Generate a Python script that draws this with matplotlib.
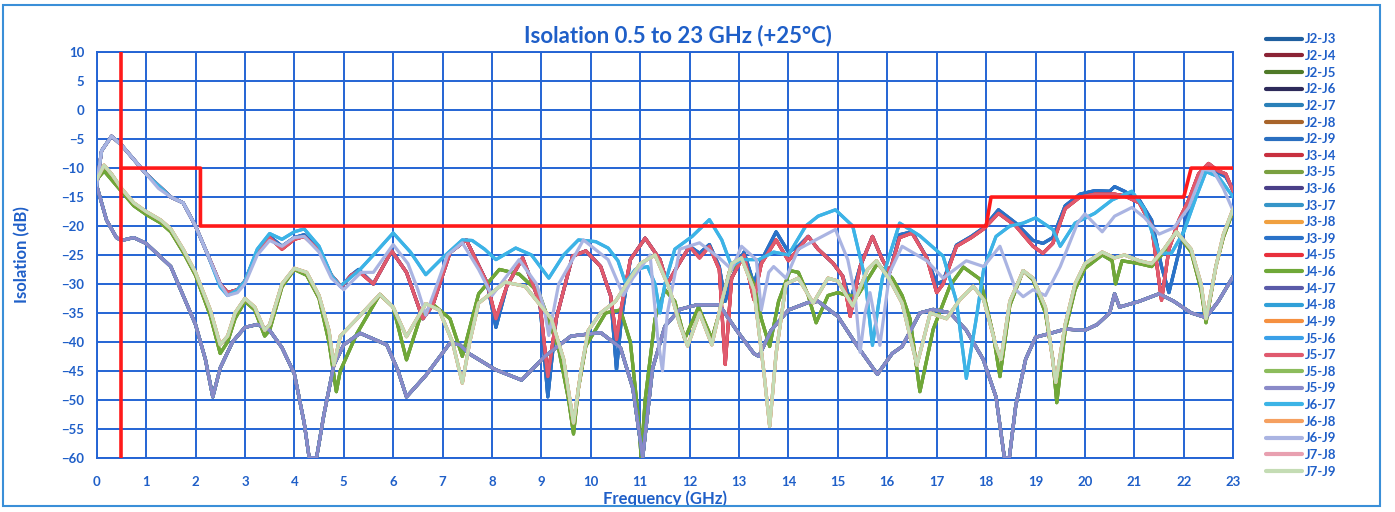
import matplotlib
matplotlib.use('Agg')
from matplotlib import pyplot as plt
from matplotlib.patches import Rectangle

plt.rcParams['font.family'] = ['Lato', 'DejaVu Sans']

BLUE_TXT = '#1f5fc8'
GRID = '#2464d4'

# ---- data (GHz, dB) ----
freq_main = [0.0, 0.1, 0.3, 0.5, 0.75, 1.0, 1.25, 1.5, 1.75, 2.0, 2.25, 2.5, 2.65, 2.85, 3.0, 3.25,
             3.5, 3.75, 4.0, 4.2, 4.5, 4.75, 4.95, 5.15, 5.3, 5.6, 5.97, 6.27, 6.6, 6.8, 7.15, 7.48,
             7.9, 8.08, 8.3, 8.62, 8.97, 9.13, 9.3, 9.63, 9.9, 10.2, 10.4, 10.52, 10.62, 10.8, 11.1,
             11.4, 11.55, 11.75, 12.0, 12.2, 12.4, 12.6, 12.72, 12.85, 13.1, 13.3, 13.45, 13.75, 14.0,
             14.2, 14.4, 14.6, 14.9, 15.1, 15.25, 15.45, 15.7, 15.9, 16.05, 16.25, 16.5, 16.8, 17.0,
             17.13, 17.4, 17.7, 17.95, 18.25, 18.6, 18.95, 19.15, 19.35, 19.6, 19.9, 20.2, 20.5, 20.6,
             20.8, 21.1, 21.35, 21.55, 21.7, 21.9, 22.1, 22.3, 22.5, 22.7, 22.85, 23.0]
iso_blue = [-13, -7, -4.5, -6, -8.5, -11, -13, -15, -16, -20, -25, -30, -31.5, -31, -29.5, -24.5,
            -21.8, -23.5, -22, -21.5, -24, -28.5, -30.5, -28.5, -27.5, -30, -24.3, -28, -36, -33.7, -24.6, -22.4,
            -29.8, -37.5, -30.4, -25.5, -33.3, -49.5, -36, -25.2, -24.3, -27, -32, -44.8, -36, -25.8, -22.1,
            -25.8, -30, -27, -23.5, -24.7, -23.2, -27, -33, -29, -24.5, -30, -26, -21, -24.5,
            -23.5, -21.8, -24, -26.4, -28.7, -33, -27, -21.8, -25.8, -28, -21.5, -21, -25.5, -30,
            -29.5, -23.3, -21.8, -20.3, -17.2, -19.5, -22.5, -23, -22, -16.5, -14.5, -13.9, -14, -13.2,
            -14, -15.5, -19, -27, -31.5, -24.5, -17, -11.4, -9.4, -10.8, -11.5, -13.8]
iso_red = [-13, -7, -4.5, -6, -8.5, -11, -13, -15, -16, -20, -25, -30, -31.5, -31, -29.5, -24.5,
           -22, -24, -22.3, -21.8, -24.2, -28.5, -30.5, -28.5, -27.8, -30, -24.3, -28, -36, -33.7, -24.6, -22.4,
           -29.8, -36, -30.4, -25.5, -33.3, -46, -36, -25.2, -24.3, -27, -32, -39.6, -34, -25.8, -22.1,
           -25.8, -30, -27, -23.5, -25.5, -23.5, -27.5, -43.9, -29, -25, -32.7, -26.5, -22.4, -26,
           -24, -21.8, -24, -26.4, -28.7, -35.6, -27, -21.8, -25.8, -28, -22, -21.2, -25.5, -31.5,
           -30, -23.5, -22, -20.5, -17.8, -20, -23.5, -24.7, -23, -17, -15, -14.5, -14.5, -14.5,
           -14.8, -16, -20, -32.8, -24, -19, -15.5, -11, -9.2, -10.5, -11, -14]

freq_cyan = [0.0, 0.1, 0.3, 0.5, 0.75, 1.0, 1.25, 1.5, 1.75, 2.0, 2.25, 2.5, 2.65, 2.85, 3.0, 3.25,
             3.5, 3.75, 4.0, 4.2, 4.5, 4.75, 4.93, 5.33, 5.6, 6.0, 6.35, 6.66, 7.0, 7.4, 7.6, 7.85,
             8.08, 8.48, 8.8, 9.15, 9.45, 9.75, 10.1, 10.35, 10.55, 10.7, 10.9, 11.15, 11.3, 11.4,
             11.5, 11.7, 12.05, 12.4, 12.65, 12.85, 13.05, 13.4, 13.7, 14.0, 14.35, 14.6, 14.95, 15.3,
             15.55, 15.7, 15.9, 16.25, 16.66, 17.13, 17.4, 17.6, 17.8, 17.95, 18.2, 18.48, 18.75, 19.0,
             19.35, 19.5, 19.8, 20.2, 20.55, 20.95, 21.2, 21.5, 21.75, 22.0, 22.25, 22.45, 22.7, 23.0]
iso_cyan = [-13, -7, -4.5, -6, -8.5, -11, -13, -15, -16, -20, -25, -30.5, -32, -31, -29.5, -24,
            -21.3, -22.3, -21, -20.5, -23.5, -28.5, -30.4, -27.5, -25, -21.2, -24.5, -28.4, -25.5, -22.4, -22.5, -24,
            -25.8, -23.8, -25, -29, -25, -22.4, -22.7, -23.8, -26, -29.8, -27.5, -27, -30, -35,
            -30, -24, -21.8, -18.9, -22.4, -27, -25.8, -25.8, -24.5, -25, -20, -18.3, -17.2, -20,
            -29, -40.6, -29, -19.5, -21.7, -25.2, -33, -46.3, -36, -27.5, -21.8, -20, -19.5, -18.6,
            -20.6, -23.5, -19.5, -17.8, -15.5, -14, -17, -24.7, -24.7, -21, -15, -10.6, -11.5, -15]

freq_lav = [0.0, 0.1, 0.3, 0.5, 0.75, 1.0, 1.25, 1.5, 1.75, 2.0, 2.25, 2.5, 2.65, 2.85, 3.0, 3.25,
            3.5, 3.75, 4.0, 4.2, 4.5, 4.75, 5.0, 5.35, 5.6, 6.0, 6.3, 6.5, 6.66, 6.85, 7.1, 7.4,
            7.73, 8.0, 8.55, 8.9, 9.05, 9.15, 9.35, 9.63, 9.85, 10.35, 10.66, 10.85, 11.2, 11.35,
            11.45, 11.55, 11.8, 12.2, 12.6, 12.85, 13.05, 13.35, 13.45, 13.6, 13.7, 13.95, 14.2, 14.55,
            14.95, 15.2, 15.35, 15.45, 15.55, 15.65, 15.85, 16.05, 16.3, 16.8, 17.13, 17.6, 17.95, 18.28,
            18.6, 18.75, 18.95, 19.2, 19.5, 19.85, 20.0, 20.35, 20.6, 20.95, 21.2, 21.5, 21.8, 22.1,
            22.4, 22.6, 22.8, 23.0]
iso_lav = [-13, -7, -4.5, -6, -8.5, -11, -13.5, -15, -16, -20, -25, -30, -32, -31.5, -30, -25,
           -22.5, -23.5, -22, -21.8, -24.5, -29, -31, -28, -28, -23.2, -26.5, -31, -35.4, -31, -25, -22.9,
           -27.5, -32, -25.8, -30, -34, -38.9, -30, -25.8, -22.4, -25.8, -32, -29, -25, -39,
           -45, -35, -24, -22.9, -25.5, -27.5, -23.5, -25.8, -34.5, -28, -27, -29, -24, -22.4,
           -20.6, -25.8, -32, -41.8, -35, -31.5, -40.6, -28, -23.5, -26, -29, -26, -27, -23.5,
           -31, -32.2, -31, -32, -27, -19.5, -17.9, -21, -18.3, -16.8, -18.5, -21.4, -20.3, -16.8,
           -10.2, -10.5, -13.5, -17.4]

freq_green = [0.0, 0.15, 0.3, 0.5, 0.75, 1.0, 1.3, 1.5, 1.75, 2.0, 2.3, 2.5, 2.65, 2.8, 3.0, 3.2,
              3.4, 3.5, 3.75, 4.0, 4.25, 4.5, 4.7, 4.85, 4.93, 5.27, 5.73, 6.0, 6.27, 6.53, 6.8, 7.15,
              7.4, 7.73, 8.15, 8.55, 8.95, 9.35, 9.55, 9.65, 9.75, 9.9, 10.3, 10.6, 10.8, 10.95,
              11.02, 11.1, 11.3, 11.5, 11.7, 11.9, 12.18, 12.45, 12.6, 12.8, 13.05, 13.3, 13.45, 13.62,
              13.8, 14.03, 14.2, 14.4, 14.56, 14.8, 15.0, 15.2, 15.4, 15.8, 16.1, 16.3, 16.46, 16.66,
              16.93, 17.27, 17.54, 17.88, 18.15, 18.28, 18.48, 18.75, 18.95, 19.2, 19.35, 19.43, 19.6, 19.8,
              20.0, 20.35, 20.55, 20.62, 20.75, 21.1, 21.35, 21.6, 21.85, 22.15, 22.35, 22.45, 22.65, 22.8,
              23.0]
iso_green = [-12, -10.5, -12, -14, -16.5, -18, -19.5, -21, -24.5, -28.5, -35.5, -42, -40, -36, -33, -34.5,
             -39, -38, -30.5, -27.5, -28.5, -32.5, -40, -48.6, -45, -38.5, -31.8, -34, -43.1, -36.2, -33.5, -36,
             -42.5, -31.7, -27.5, -28.3, -31.5, -41.2, -50, -55.9, -48, -40.7, -35, -34.5, -40, -52,
             -60, -50, -36, -31, -33, -39.5, -34, -39.5, -35, -28, -25.5, -30, -36, -40.8,
             -33, -27.7, -28, -32, -36.7, -32, -31.5, -32, -32, -26.5, -29, -32, -36, -48.6,
             -37.8, -30.3, -27.1, -29.2, -39, -46, -33.7, -27.7, -29.3, -35, -43, -50.5, -38, -31,
             -27.3, -25, -26, -30, -26, -26.5, -27, -24.5, -21, -24.5, -31, -36.7, -27, -22,
             -17.4]

freq_pale = [0.0, 0.15, 0.3, 0.5, 0.75, 1.0, 1.3, 1.5, 1.75, 2.0, 2.3, 2.5, 2.65, 2.8, 3.0, 3.2,
             3.4, 3.5, 3.75, 4.0, 4.25, 4.5, 4.7, 4.8, 4.93, 5.27, 5.73, 6.0, 6.27, 6.66, 6.93, 7.2,
             7.4, 7.55, 7.73, 8.27, 8.67, 9.2, 9.45, 9.65, 9.8, 9.95, 10.2, 10.5, 10.8, 11.0,
             11.3, 11.6, 11.8, 11.96, 12.2, 12.45, 12.65, 12.85, 13.05, 13.3, 13.5, 13.62, 13.75, 13.95,
             14.2, 14.5, 14.8, 15.0, 15.3, 15.6, 15.78, 16.05, 16.3, 16.6, 16.87, 17.2, 17.47, 17.74,
             17.95, 18.2, 18.3, 18.48, 18.75, 18.95, 19.2, 19.41, 19.6, 19.8, 20.0, 20.35, 20.6, 20.8,
             21.1, 21.35, 21.6, 21.85, 22.15, 22.35, 22.45, 22.65, 22.8, 23.0]
iso_pale = [-12, -9.5, -11, -13.5, -16, -17.5, -19, -20.5, -24, -28, -34.5, -40.5, -39, -35, -32.5, -34,
            -38, -37, -30, -27.3, -28, -32, -38, -44, -39, -36, -31.8, -34, -39.1, -33.4, -34.5, -40,
            -47.1, -40, -33.3, -29.7, -30.4, -36, -43, -54, -45, -38, -35, -33, -29, -26.5,
            -25, -31, -37, -40.7, -35, -40.5, -33, -26.5, -25.5, -31, -45, -54.6, -42, -30,
            -29, -33.3, -29, -29.5, -33.8, -27.5, -26, -29.3, -33.3, -44, -35, -36, -32.7, -30.4,
            -32.7, -40.7, -43, -33, -27.7, -29, -34, -47, -37, -30, -26.5, -24.5, -25.5, -25,
            -26, -26.5, -24, -21, -24, -30, -36, -27, -21.5, -17]

freq_low = [0.0, 0.2, 0.4, 0.5, 0.75, 1.0, 1.5, 2.0, 2.2, 2.35, 2.5, 2.75, 3.0, 3.25, 3.5, 3.75,
            4.0, 4.2, 4.3, 4.45, 4.6, 4.8, 5.0, 5.33, 5.87, 6.1, 6.27, 6.66, 7.15, 7.35, 7.53, 8.07,
            8.6, 9.07, 9.6, 10.2, 10.6, 10.85, 11.05, 11.25, 11.5, 11.8, 12.15, 12.6, 12.95, 13.3,
            13.4, 13.65, 14.0, 14.4, 14.6, 15.0, 15.4, 15.8, 16.1, 16.3, 16.66, 16.93, 17.27, 17.6,
            17.94, 18.2, 18.37, 18.47, 18.6, 18.8, 19.0, 19.27, 19.6, 20.0, 20.25, 20.5, 20.6, 20.7,
            21.1, 21.5, 21.8, 22.15, 22.45, 22.7, 23.0]
iso_low = [-13, -19, -22, -22.5, -22, -23, -27, -37, -43, -49.5, -44.5, -40, -37.5, -37, -38, -41,
           -45.5, -54, -60, -60, -52.5, -44, -40.5, -38.5, -40.5, -45, -49.5, -45.8, -40.2, -40.5, -42, -44.8,
           -46.6, -42.5, -39, -38.4, -41, -48, -60, -44.6, -37.3, -34.4, -33.6, -33.6, -38, -42,
           -42.5, -38, -34.5, -33.2, -33, -35.6, -40.8, -45.6, -42, -40.8, -35, -34.4, -35, -38,
           -43, -49.5, -60, -60, -51, -43, -39.2, -38.6, -37.8, -38, -37, -35, -31.7, -34,
           -33, -31.7, -33, -35, -35.8, -33, -28.7]

# limit mask (red)
band_start = 0.5
spec_freq = [0.5, 2.1, 2.1, 18.0, 18.1, 22.0, 22.15, 23.0]
spec_iso = [-10, -10, -20, -20, -15, -15, -10, -10]

pairs = ['J2-J3', 'J2-J4', 'J2-J5', 'J2-J6', 'J2-J7', 'J2-J8', 'J2-J9',
         'J3-J4', 'J3-J5', 'J3-J6', 'J3-J7', 'J3-J8', 'J3-J9',
         'J4-J5', 'J4-J6', 'J4-J7', 'J4-J8', 'J4-J9',
         'J5-J6', 'J5-J7', 'J5-J8', 'J5-J9',
         'J6-J7', 'J6-J8', 'J6-J9', 'J7-J8', 'J7-J9']
pair_colors = ['#1f5f9f', '#8b2335', '#4f7a28', '#2e2a5a', '#2a80b8', '#a8642a', '#2a6fc0',
               '#c8303f', '#7aa040', '#4a3f88', '#3595c8', '#f0a040', '#2a72c8',
               '#e8303c', '#6fa838', '#5a5aa8', '#30a0d8', '#f59040',
               '#3aa0e8', '#e05a6e', '#8cbc5c', '#8a8ac8',
               '#3cb4e6', '#f5a060', '#aab4e2', '#e8a0b0', '#c4dcb4']
# which traced curve each pair follows (curves overlap in the scan)
pair_curve = {'J2-J3': 'blue', 'J2-J4': 'red', 'J2-J5': 'green', 'J2-J6': 'low', 'J2-J7': 'low',
              'J2-J8': 'low', 'J2-J9': 'blue', 'J3-J4': 'red', 'J3-J5': 'green', 'J3-J6': 'low',
              'J3-J7': 'low', 'J3-J8': 'low', 'J3-J9': 'blue', 'J4-J5': 'red', 'J4-J6': 'green',
              'J4-J7': 'low', 'J4-J8': 'low', 'J4-J9': 'pale', 'J5-J6': 'cyan', 'J5-J7': 'red',
              'J5-J8': 'pale', 'J5-J9': 'low', 'J6-J7': 'cyan', 'J6-J8': 'pale', 'J6-J9': 'lav',
              'J7-J8': 'pale', 'J7-J9': 'pale'}
curves = {'blue': (freq_main, iso_blue), 'red': (freq_main, iso_red), 'cyan': (freq_cyan, iso_cyan),
          'lav': (freq_lav, iso_lav), 'green': (freq_green, iso_green), 'pale': (freq_pale, iso_pale),
          'low': (freq_low, iso_low)}

fig = plt.figure(figsize=(13.95, 5.12), dpi=100)
ax = fig.add_axes([0.0693, 0.106, 0.8147, 0.792])

for name, col in zip(pairs, pair_colors):
    f, v = curves[pair_curve[name]]
    ax.plot(f, v, color=col, lw=2.3, label=name, solid_joinstyle='round', solid_capstyle='round', zorder=3)

ax.axvline(band_start, color='#ff1a1a', lw=2.6, zorder=4)
ax.plot(spec_freq, spec_iso, color='#ff1a1a', lw=2.6, zorder=4)

ax.set_xlim(0, 23)
ax.set_ylim(-60, 10)
ax.set_xticks(range(0, 24))
ax.set_yticks(range(-60, 11, 5))
ax.grid(True, color=GRID, lw=1.4)
ax.set_axisbelow(True)
for s in ax.spines.values():
    s.set_color(GRID)
    s.set_linewidth(1.4)
ax.tick_params(length=0, labelcolor=BLUE_TXT, labelsize=9.5)
ax.tick_params(axis='x', pad=13)
ax.tick_params(axis='y', pad=9)
for lbl in ax.get_xticklabels() + ax.get_yticklabels():
    lbl.set_fontweight('bold')

ax.set_xlabel('Frequency (GHz)', color=BLUE_TXT, fontsize=12, fontweight='bold', labelpad=2)
ax.set_ylabel('Isolation (dB)', color=BLUE_TXT, fontsize=12, fontweight='bold', labelpad=22)
fig.text(0.486, 0.93, 'Isolation 0.5 to 23 GHz (+25°C)', color=BLUE_TXT, fontsize=16,
         fontweight='bold', ha='center', va='center')

leg = ax.legend(loc='upper left', bbox_to_anchor=(0.904, 0.945), bbox_transform=fig.transFigure,
                frameon=False, fontsize=9.5, handlelength=2.7, handletextpad=0.25,
                labelspacing=0.35, borderaxespad=0)
for t in leg.get_texts():
    t.set_color(BLUE_TXT)
    t.set_fontweight('bold')
for h in leg.get_lines():
    h.set_linewidth(3)

fig.patches.append(Rectangle((0.002, 0.012), 0.987, 0.978, transform=fig.transFigure,
                             fill=False, edgecolor='#3a8fd8', lw=1.5))

fig.savefig('out.png', dpi=100)
